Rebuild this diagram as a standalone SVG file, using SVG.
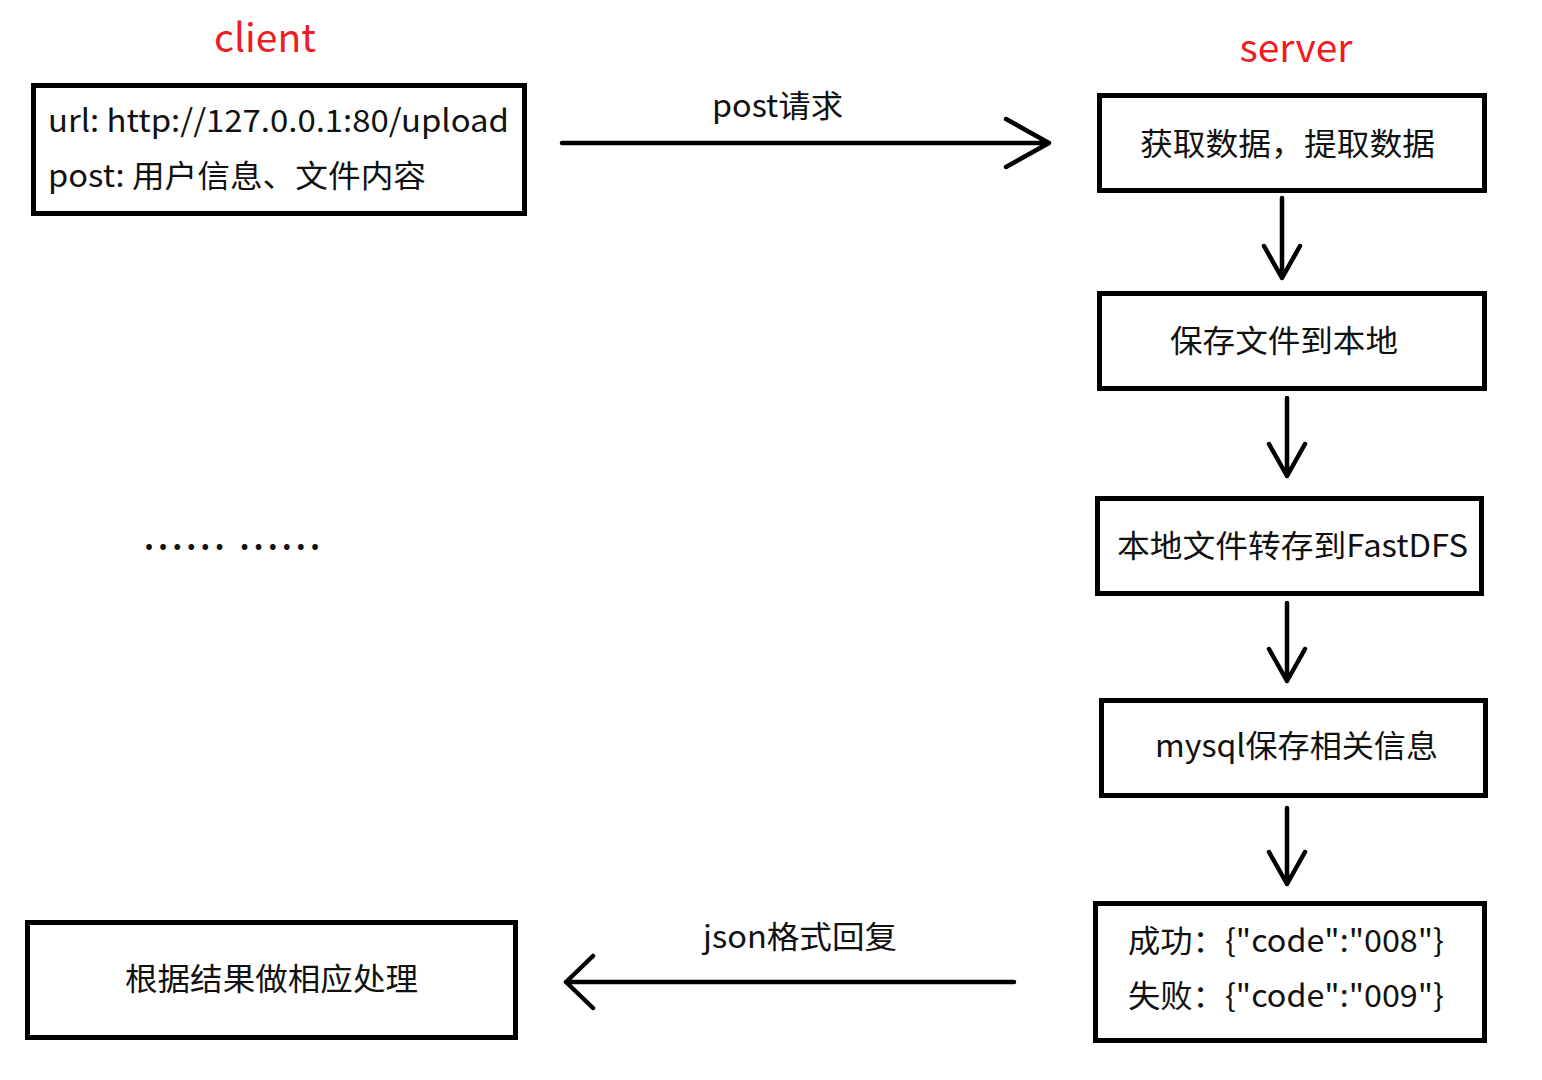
<svg xmlns="http://www.w3.org/2000/svg" width="1542" height="1080" viewBox="0 0 1542 1080">
<style>
.box{fill:#fff;stroke:#000;stroke-width:5}
.t{font-family:"Noto Sans CJK SC","Microsoft YaHei",sans-serif;font-size:31px;fill:#111}
.red{font-family:"Noto Sans CJK SC",sans-serif;font-size:39px;fill:#ee1c24}
.ln{stroke:#000;stroke-width:4.5;fill:none;stroke-linecap:round;stroke-linejoin:round}
</style>
<rect width="1542" height="1080" fill="#fff"/>
<text class="red" x="265" y="52" text-anchor="middle">client</text>
<text class="red" x="1296" y="62" text-anchor="middle">server</text>
<g id="client-request">
<rect class="box" x="33.5" y="85.5" width="491" height="128"/>
<text class="t" x="48" y="132" textLength="461" lengthAdjust="spacingAndGlyphs">url: http://127.0.0.1:80/upload</text>
<text class="t" x="48" y="187" textLength="378" lengthAdjust="spacingAndGlyphs">post: 用户信息、文件内容</text>
</g>
<g id="s1">
<rect class="box" x="1099.5" y="95.5" width="385" height="95"/>
<text class="t" x="1140" y="155" textLength="295" lengthAdjust="spacingAndGlyphs">获取数据，提取数据</text>
</g>
<g id="s2">
<rect class="box" x="1099.5" y="293.5" width="385" height="95"/>
<text class="t" x="1170" y="352" textLength="228" lengthAdjust="spacingAndGlyphs">保存文件到本地</text>
</g>
<g id="s3">
<rect class="box" x="1097.5" y="498.5" width="384" height="95"/>
<text class="t" x="1117" y="557" textLength="351" lengthAdjust="spacingAndGlyphs">本地文件转存到FastDFS</text>
</g>
<g id="s4">
<rect class="box" x="1101.5" y="700.5" width="384" height="95"/>
<text class="t" x="1155" y="757" textLength="283" lengthAdjust="spacingAndGlyphs">mysql保存相关信息</text>
</g>
<g id="s5">
<rect class="box" x="1095.5" y="903.5" width="389" height="137"/>
<text class="t" x="1128" y="952" textLength="316" lengthAdjust="spacingAndGlyphs">成功：{"code":"008"}</text>
<text class="t" x="1128" y="1007" textLength="316" lengthAdjust="spacingAndGlyphs">失败：{"code":"009"}</text>
</g>
<g id="client-result">
<rect class="box" x="27.5" y="922.5" width="488" height="115"/>
<text class="t" x="125" y="990" textLength="293" lengthAdjust="spacingAndGlyphs">根据结果做相应处理</text>
</g>
<text class="t" x="144" y="550" font-weight="bold" font-size="34" textLength="176" lengthAdjust="spacing">...... ......</text>
<g id="connectors">
<path class="ln" d="M562 143H1049M1006 119L1049 143L1006 167"/>
<text class="t" x="712" y="117" textLength="131" lengthAdjust="spacingAndGlyphs">post请求</text>
<path class="ln" d="M1282 198V278M1264 246L1282 278L1300 246"/>
<path class="ln" d="M1287 398V476M1269 444L1287 476L1305 444"/>
<path class="ln" d="M1287 603V681M1269 649L1287 681L1305 649"/>
<path class="ln" d="M1287 808V884M1269 852L1287 884L1305 852"/>
<path class="ln" d="M1014 982H566M593 956L566 982L593 1008"/>
<text class="t" x="703" y="948" textLength="194" lengthAdjust="spacingAndGlyphs">json格式回复</text>
</g>
</svg>
